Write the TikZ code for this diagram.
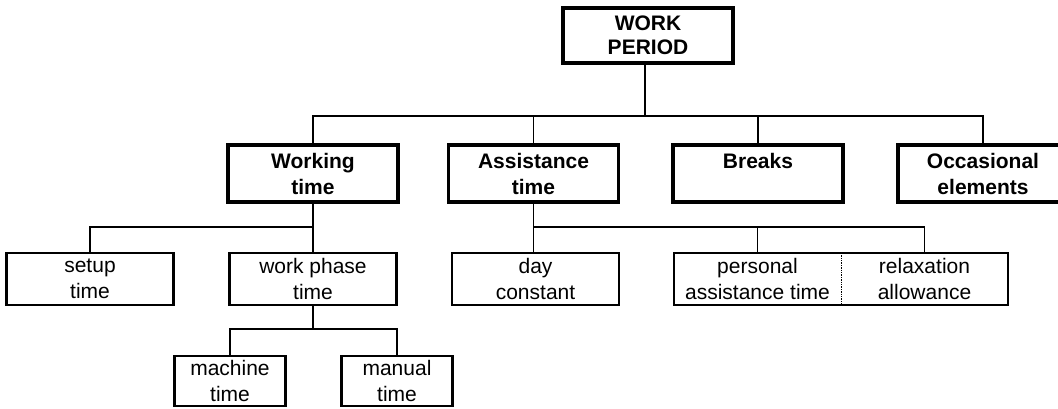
\documentclass[tikz,border=0pt]{standalone}
\usepackage{fontspec}
\setmainfont{Liberation Sans}
\begin{document}
\begin{tikzpicture}[x=1pt,y=-1pt,
  every node/.style={font=\fontsize{21}{26}\selectfont, align=center, inner sep=0pt},
  topbox/.style={draw, line width=4pt, minimum width=170pt, minimum height=55pt, font=\fontsize{21}{24}\selectfont\bfseries},
  midbox/.style={draw, line width=3.4pt, minimum width=170pt, minimum height=57pt, font=\fontsize{21}{26}\selectfont\bfseries},
  lowbox/.style={draw, line width=2.2pt, minimum width=167pt, minimum height=52pt, font=\fontsize{21}{26}\selectfont},
  smallbox/.style={draw, line width=2.2pt, minimum width=111pt, minimum height=50pt, font=\fontsize{21}{26}\selectfont},
  plainbox/.style={minimum width=167pt, minimum height=52pt, font=\fontsize{21}{26}\selectfont},
  conn/.style={line width=1.5pt}]
\useasboundingbox (0,0) rectangle (1058,408);
\fill[white] (0,0) rectangle (1058,408);
% level 1
\node[topbox] (wp) at (648,35.5) {WORK\\PERIOD};
% level 2
\node[midbox] (wt) at (313,173.5) {Working\\time};
\node[midbox] (at) at (533.5,173.5) {Assistance\\time};
\node[midbox] (br) at (758,173.5) {Breaks\\\phantom{time}};
\node[midbox] (oc) at (983,173.5) {Occasional\\elements};
% level 3
\node[lowbox] (st) at (90,279) {setup\\time};
\node[lowbox] (wph) at (313,279) {work phase\\time};
\node[lowbox] (dc) at (535.5,279) {day\\constant};
\node[plainbox] (pa) at (757.5,279) {personal\\assistance time};
\node[plainbox] (ra) at (924.5,279) {relaxation\\allowance};
\draw[line width=2.2pt] (pa.north west) rectangle (ra.south east);
\draw[line width=1.4pt, densely dotted] (pa.north east) -- (pa.south east);
% level 4
\node[smallbox] (mt) at (230,381) {machine\\time};
\node[smallbox] (mn) at (397,381) {manual\\time};
% connectors
\coordinate (b1) at (645,116);
\coordinate (b2) at (313,227);
\coordinate (b3) at (313,329);
\draw[conn] (wp.south -| b1) -- (b1);
\draw[conn] (wt.north) |- (oc.north |- b1) -- (oc.north);
\draw[conn] (at.north) -- (at.north |- b1);
\draw[conn] (br.north) -- (br.north |- b1);
\draw[conn] (wt.south) -- (wph.north);
\draw[conn] (st.north) |- (b2);
\draw[conn] (dc.north -| at.south) -- (at.south);
\draw[conn] (at.south |- b2) -| (ra.north);
\draw[conn] (pa.north) -- (pa.north |- b2);
\draw[conn] (wph.south) -- (b3);
\draw[conn] (mt.north) |- (mn.north |- b3) -- (mn.north);
\end{tikzpicture}
\end{document}
